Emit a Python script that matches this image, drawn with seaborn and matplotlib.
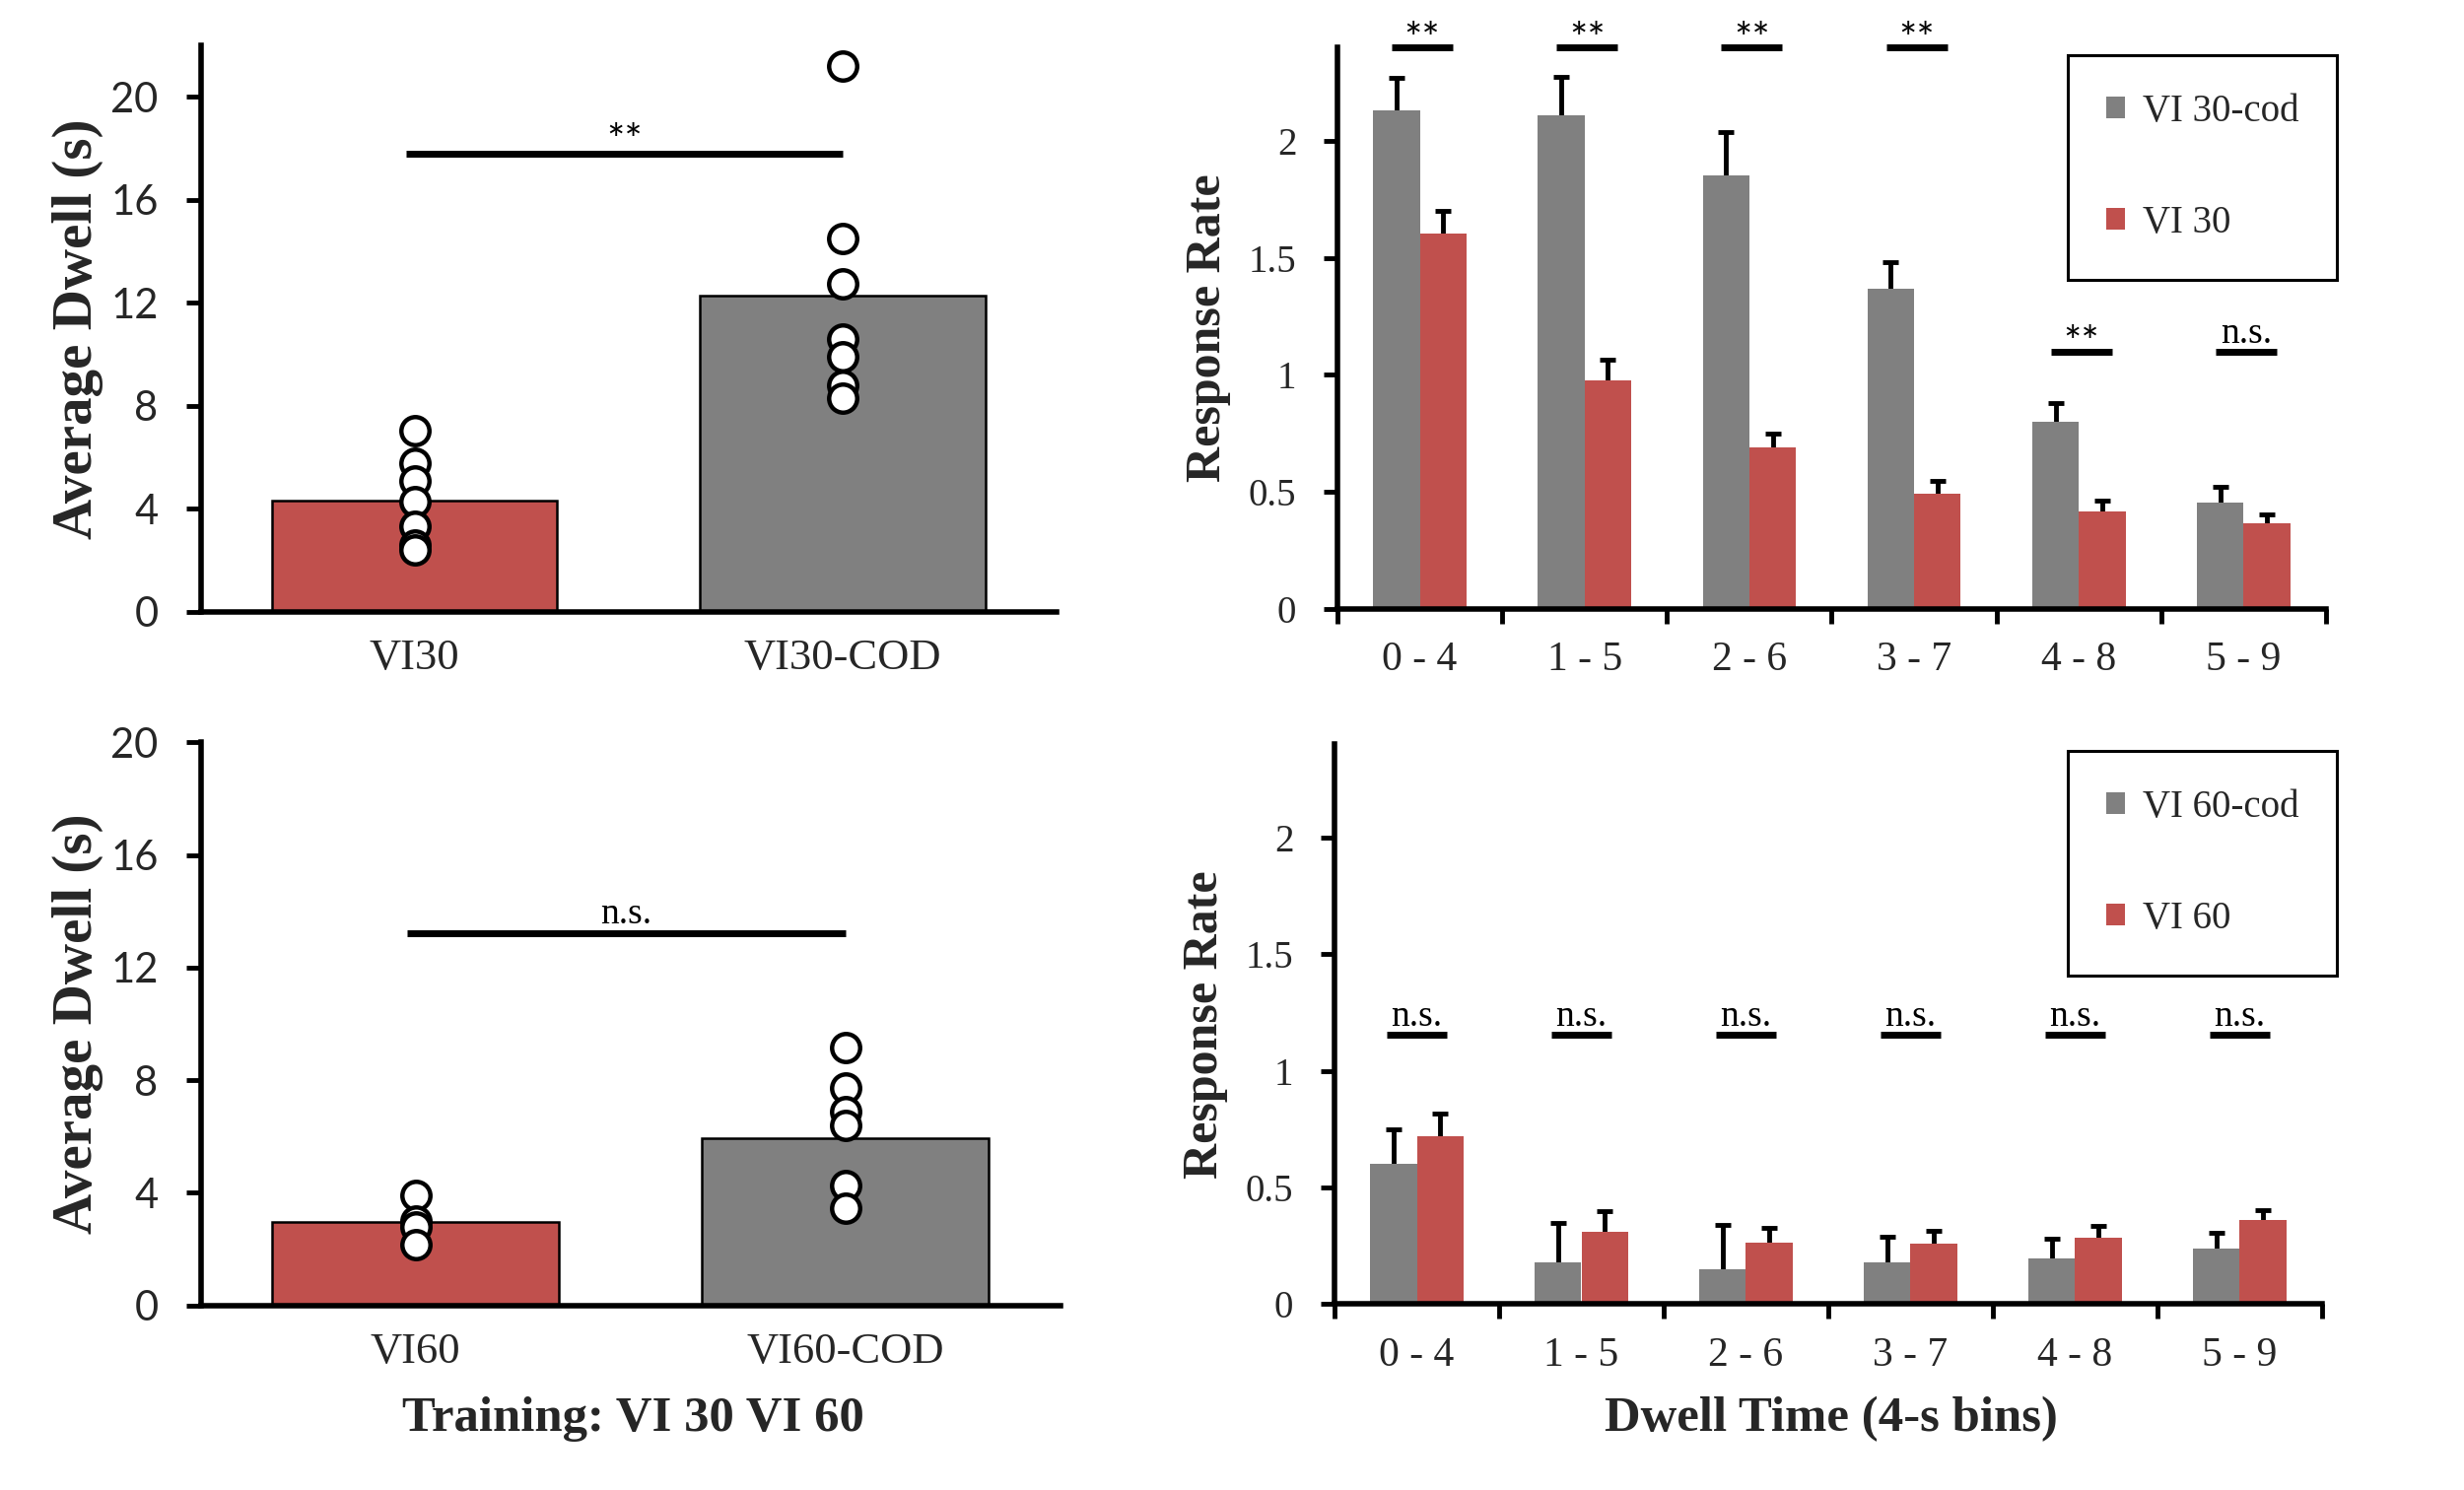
import numpy as np
import pandas as pd
import matplotlib
matplotlib.use("Agg")
import matplotlib.pyplot as plt
from matplotlib.patches import Patch
import seaborn as sns

sns.set_theme(style="white")
plt.rcParams["font.family"] = ["Liberation Serif", "DejaVu Sans"]
plt.rcParams["axes.edgecolor"] = "black"

RED = "#C0504D"
GRAY = "#808080"

# ---------------- data ----------------
dwell30_groups = ["VI30", "VI30-COD"]
dwell30_means = [4.33, 12.27]
dwell30_vi_pts = [7.05, 5.78, 5.09, 4.27, 3.3, 2.58, 2.4]
dwell30_cod_pts = [21.2, 14.5, 12.75, 10.6, 9.9, 8.8, 8.3]

dwell60_groups = ["VI60", "VI60-COD"]
dwell60_means = [2.95, 5.92]
dwell60_vi_pts = [3.9, 3.0, 2.8, 2.15]
dwell60_cod_pts = [9.16, 7.72, 6.88, 6.39, 4.25, 3.45]

bins = ["0 - 4", "1 - 5", "2 - 6", "3 - 7", "4 - 8", "5 - 9"]
rate30_cod = [2.13, 2.11, 1.855, 1.37, 0.80, 0.455]
rate30_cod_err = [0.14, 0.165, 0.185, 0.11, 0.08, 0.065]
rate30 = [1.605, 0.975, 0.69, 0.49, 0.415, 0.365]
rate30_err = [0.095, 0.09, 0.06, 0.057, 0.047, 0.038]

rate60_cod = [0.60, 0.18, 0.15, 0.18, 0.195, 0.24]
rate60_cod_err = [0.15, 0.168, 0.19, 0.11, 0.085, 0.065]
rate60 = [0.72, 0.31, 0.265, 0.26, 0.285, 0.36]
rate60_err = [0.097, 0.09, 0.063, 0.053, 0.05, 0.045]

sig30 = ["**", "**", "**", "**", "**", "n.s."]
sig30_y = [2.40, 2.40, 2.40, 2.40, 1.10, 1.10]
sig60 = ["n.s."] * 6
sig60_y = [1.155] * 6

# ---------------- figure ----------------
fig = plt.figure(figsize=(25, 15.12), dpi=100)
ax_tl = fig.add_axes([0.0814, 0.5895, 0.3474, 0.3801])
ax_bl = fig.add_axes([0.0814, 0.1240, 0.3490, 0.3778])
ax_tr = fig.add_axes([0.5428, 0.5916, 0.4012, 0.3765])
ax_br = fig.add_axes([0.5416, 0.1247, 0.4008, 0.3757])

SPINE_LW = 4


def style_spines(ax):
    sns.despine(ax=ax)
    for s in ("left", "bottom"):
        ax.spines[s].set_linewidth(SPINE_LW)
        ax.spines[s].set_color("black")
        ax.spines[s].set_zorder(6)


def sig_mark(ax, x0, x1, y, text, text_y):
    ax.plot([x0, x1], [y, y], color="black", lw=5, solid_capstyle="butt",
            clip_on=False, zorder=5)
    if text == "**":
        ax.text((x0 + x1) / 2, text_y, text, ha="center", va="baseline",
                fontsize=31, family=["Lato", "DejaVu Sans"], color="black")
    else:
        ax.text((x0 + x1) / 2, text_y, text, ha="center", va="baseline",
                fontsize=27, color="black")


def dwell_panel(ax, groups, means, pts_a, pts_b, ymax, sig_y, sig_text, text_y):
    df_bar = pd.DataFrame({"group": groups, "value": means})
    sns.barplot(data=df_bar, x="group", y="value", hue="group", order=groups,
                hue_order=groups, palette=[RED, GRAY], saturation=1,
                width=0.667, edgecolor="black", linewidth=1.8,
                errorbar=None, legend=False, ax=ax)
    df_pts = pd.DataFrame({
        "group": [groups[0]] * len(pts_a) + [groups[1]] * len(pts_b),
        "value": pts_a + pts_b,
    })
    sns.stripplot(data=df_pts, x="group", y="value", order=groups,
                  jitter=False, color="white", edgecolor="black",
                  linewidth=3.2, size=20.5, ax=ax, zorder=4)
    ax.set_xlim(-0.5, 1.5)
    ax.set_ylim(0, ymax)
    ax.set_xticks([0, 1])
    ax.set_xticklabels(groups, fontsize=32)
    ax.set_xticks([-0.5, 0.5, 1.5], minor=True)
    ax.tick_params(axis="x", which="major", length=0, pad=20)
    ax.tick_params(axis="x", which="minor", length=11, width=3.5,
                   direction="out", color="black")
    ax.set_yticks(range(0, 21, 4))
    ax.set_yticklabels([str(v) for v in range(0, 21, 4)], fontsize=30,
                       family=["Lato", "DejaVu Sans"])
    ax.tick_params(axis="y", length=11, width=3.5, pad=20, direction="out",
                   color="black", left=True)
    ax.set_xlabel("")
    ax.set_ylabel("Average Dwell (s)", fontsize=41, fontweight="bold",
                  va="center")
    ax.yaxis.set_label_coords(-0.143, 0.5)
    style_spines(ax)
    sig_mark(ax, -0.02, 1, sig_y, sig_text, text_y)


def rate_panel(ax, cod, cod_err, base, base_err, labels, sigs, sig_ys,
               sig_left, sig_right, sig_text_off, legend_xy):
    df = pd.DataFrame({
        "bin": bins * 2,
        "rate": cod + base,
        "group": [labels[0]] * len(bins) + [labels[1]] * len(bins),
    })
    sns.barplot(data=df, x="bin", y="rate", hue="group", order=bins,
                hue_order=labels, palette=[GRAY, RED], saturation=1,
                width=0.567, linewidth=0, errorbar=None, legend=False, ax=ax,
                zorder=2)
    for cont, errs in zip(ax.containers, [cod_err, base_err]):
        xs = [p.get_x() + p.get_width() / 2 for p in cont]
        ys = [p.get_height() for p in cont]
        # symmetric bars drawn beneath the columns: only the upper half shows
        ax.errorbar(xs, ys, yerr=errs, fmt="none", ecolor="black",
                    elinewidth=3.5, capsize=5.5, capthick=3.5, zorder=1)
    ax.set_xlim(-0.5, len(bins) - 0.5)
    ax.set_ylim(0, 2.4)
    ax.set_xticks(range(len(bins)))
    ax.set_xticklabels(bins, fontsize=30)
    ax.set_xticks(np.arange(-0.5, len(bins), 1.0), minor=True)
    ax.tick_params(axis="x", which="major", length=0, pad=24)
    ax.tick_params(axis="x", which="minor", length=11, width=3.5,
                   direction="out", color="black", bottom=True)
    yt = [0, 0.5, 1, 1.5, 2]
    ax.set_yticks(yt)
    ax.set_yticklabels(["0", "0.5", "1", "1.5", "2"], fontsize=28)
    ax.tick_params(axis="y", length=10, width=3.5, pad=20, direction="out",
                   color="black", left=True)
    ax.set_xlabel("")
    ax.set_ylabel("Response Rate", fontsize=36, fontweight="bold", va="center")
    ax.yaxis.set_label_coords(-0.131, 0.5)
    style_spines(ax)
    for i, (t, y) in enumerate(zip(sigs, sig_ys)):
        sig_mark(ax, i + sig_left, i + sig_right, y, t, y + sig_text_off[t])
    handles = [Patch(facecolor=GRAY, edgecolor="none", label=labels[0]),
               Patch(facecolor=RED, edgecolor="none", label=labels[1])]
    leg = ax.legend(handles=handles, loc="upper left",
                    bbox_to_anchor=legend_xy, bbox_transform=fig.transFigure,
                    borderaxespad=0, fontsize=28, frameon=True, fancybox=False,
                    framealpha=1, edgecolor="black", borderpad=1.0,
                    labelspacing=1.95, handlelength=0.5, handleheight=0.5,
                    handletextpad=0.45)
    leg.get_frame().set_linewidth(2.2)
    leg.set_zorder(7)


dwell_panel(ax_tl, dwell30_groups, dwell30_means, dwell30_vi_pts,
            dwell30_cod_pts, 22, 17.8, "**", 17.8)
dwell_panel(ax_bl, dwell60_groups, dwell60_means, dwell60_vi_pts,
            dwell60_cod_pts, 20, 13.2, "n.s.", 13.57)

rate_panel(ax_tr, rate30_cod, rate30_cod_err, rate30, rate30_err,
           ["VI 30-cod", "VI 30"], sig30, sig30_y, -0.17, 0.20,
           {"**": -0.02, "n.s.": 0.035}, (2098 / 2500, 1 - 56 / 1512))
rate_panel(ax_br, rate60_cod, rate60_cod_err, rate60, rate60_err,
           ["VI 60-cod", "VI 60"], sig60, sig60_y, -0.18, 0.18,
           {"**": -0.02, "n.s.": 0.04}, (2098 / 2500, 1 - 762 / 1512))

fig.text(642 / 2500, 1 - 1440 / 1512, "Training: VI 30 VI 60", ha="center",
         va="center", fontsize=36.5, fontweight="bold")
fig.text(1858 / 2500, 1 - 1440 / 1512, "Dwell Time (4-s bins)", ha="center",
         va="center", fontsize=36.5, fontweight="bold")

fig.savefig("out.png", dpi=100, facecolor="white")
